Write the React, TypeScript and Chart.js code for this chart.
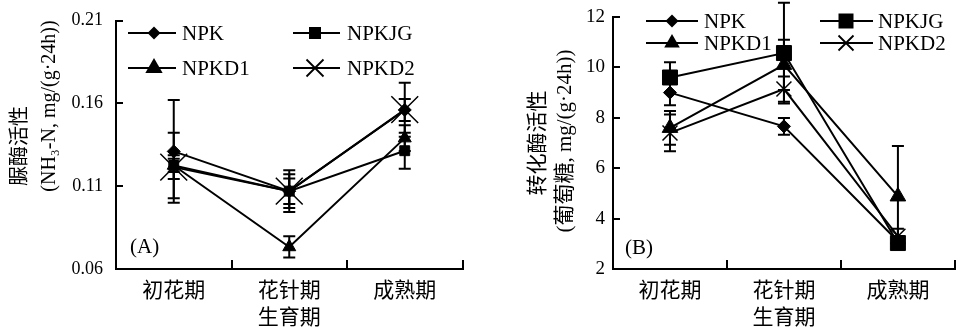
import React, { useEffect, useRef } from 'react';
import { Chart, registerables } from 'chart.js';

Chart.register(...registerables);

// ---------- data ----------
const categories = ['初花期', '花针期', '成熟期'];
const seriesNames = ['NPK', 'NPKJG', 'NPKD1', 'NPKD2'];
const xAxisTitle = '生育期';

// Panel A: urease activity
const ureaseNPK = [0.131, 0.107, 0.156];
const ureaseNPKJG = [0.1225, 0.107, 0.1314];
const ureaseNPKD1 = [0.1225, 0.0733, 0.139];
const ureaseNPKD2 = [0.1215, 0.107, 0.1562];
const ureaseErrNPK = [0.031, 0.0126, 0.0066];
const ureaseErrNPKJG = [0.0198, 0.0102, 0.0109];
const ureaseErrNPKD1 = [0.004, 0.0064, 0.0077];
const ureaseErrNPKD2 = [0.0071, 0.0077, 0.0163];
const ureaseTicks = [0.06, 0.11, 0.16, 0.21];
const ureaseTitle = ['脲酶活性', '(NH₃-N, mg/(g·24h))'];

// Panel B: invertase activity
const invertaseNPK = [9.0, 7.66, 3.1];
const invertaseNPKJG = [9.6, 10.57, 3.03];
const invertaseNPKD1 = [7.6, 10.1, 4.88];
const invertaseNPKD2 = [7.4, 9.14, 3.3];
const invertaseErrNPK = [0.5, 0.33, 0.2];
const invertaseErrNPKJG = [0.6, 2.0, 0.2];
const invertaseErrNPKD1 = [0.67, 1.0, 2.0];
const invertaseErrNPKD2 = [0.73, 0.5, 0.3];
const invertaseTicks = [2, 4, 6, 8, 10, 12];
const invertaseTitle = ['转化酶活性', '(葡萄糖, mg/(g·24h))'];

// ---------- styling ----------
const FONT = "'Liberation Serif', 'Noto Sans CJK SC', serif";
const pointStyles = ['rectRot', 'rect', 'triangle', 'crossRot'];

type Panel = {
  values: number[][];
  errors: number[][];
  ticks: number[];
  fmt: (v: number) => string;
  min: number;
  max: number;
  title: string[];
  tag: string;
  canvasLeft: number;
  canvasWidth: number;
  yAxisWidth: number;
  tickFont: number;
  tickPad: number;
  pointRadius: number[];
  crossWidth: number;
  titlePos: { x: number; y: number; size: number }[];
  tagPos: { x: number; y: number };
  legendRows: number[];
  legendCols: { x1: number; x2: number; mx: number; tx: number }[];
  legendSizes: number[];
};

const panels: Panel[] = [
  {
    values: [ureaseNPK, ureaseNPKJG, ureaseNPKD1, ureaseNPKD2],
    errors: [ureaseErrNPK, ureaseErrNPKJG, ureaseErrNPKD1, ureaseErrNPKD2],
    ticks: ureaseTicks,
    fmt: (v) => v.toFixed(2),
    min: 0.06,
    max: 0.21,
    title: ureaseTitle,
    tag: '(A)',
    canvasLeft: 0,
    canvasWidth: 483,
    yAxisWidth: 116,
    tickFont: 18,
    tickPad: 20,
    pointRadius: [6.5, 7, 7.5, 19],
    crossWidth: 1.5,
    titlePos: [
      { x: 21, y: 146, size: 20 },
      { x: 50, y: 106, size: 20 },
    ],
    tagPos: { x: 130, y: 247 },
    legendRows: [33, 68],
    legendCols: [
      { x1: 128, x2: 176, mx: 154, tx: 182 },
      { x1: 293, x2: 340, mx: 315, tx: 347 },
    ],
    legendSizes: [6.5, 6, 10, 8.5],
  },
  {
    values: [invertaseNPK, invertaseNPKJG, invertaseNPKD1, invertaseNPKD2],
    errors: [invertaseErrNPK, invertaseErrNPKJG, invertaseErrNPKD1, invertaseErrNPKD2],
    ticks: invertaseTicks,
    fmt: (v) => String(v),
    min: 2,
    max: 12,
    title: invertaseTitle,
    tag: '(B)',
    canvasLeft: 483,
    canvasWidth: 484,
    yAxisWidth: 130,
    tickFont: 19,
    tickPad: 15,
    pointRadius: [6.5, 10.6, 9, 10.6],
    crossWidth: 1.5,
    titlePos: [
      { x: 55, y: 143, size: 21 },
      { x: 82, y: 141, size: 21 },
    ],
    tagPos: { x: 142, y: 248 },
    legendRows: [21, 43],
    legendCols: [
      { x1: 163, x2: 215, mx: 189, tx: 221 },
      { x1: 337, x2: 390, mx: 363, tx: 395 },
    ],
    legendSizes: [6.5, 7.5, 9, 7.5],
  },
];

function drawMarker(ctx: CanvasRenderingContext2D, style: string, x: number, y: number, s: number) {
  ctx.beginPath();
  if (style === 'rectRot') {
    ctx.moveTo(x, y - s);
    ctx.lineTo(x + s, y);
    ctx.lineTo(x, y + s);
    ctx.lineTo(x - s, y);
    ctx.closePath();
    ctx.fill();
  } else if (style === 'rect') {
    ctx.rect(x - s, y - s, 2 * s, 2 * s);
    ctx.fill();
  } else if (style === 'triangle') {
    ctx.moveTo(x, y - s);
    ctx.lineTo(x + s * 0.866, y + s * 0.5);
    ctx.lineTo(x - s * 0.866, y + s * 0.5);
    ctx.closePath();
    ctx.fill();
  } else {
    ctx.lineWidth = 1.8;
    ctx.moveTo(x - s, y - s);
    ctx.lineTo(x + s, y + s);
    ctx.moveTo(x + s, y - s);
    ctx.lineTo(x - s, y + s);
    ctx.stroke();
  }
}

function buildConfig(p: Panel): any {
  const errorBars = {
    id: 'errbars',
    afterDatasetsDraw(chart: any) {
      const ctx = chart.ctx as CanvasRenderingContext2D;
      const xs = chart.scales.x;
      const ys = chart.scales.y;
      ctx.save();
      ctx.strokeStyle = '#000';
      ctx.lineWidth = 2;
      p.values.forEach((vals, i) => {
        vals.forEach((v, j) => {
          const e = p.errors[i][j];
          const x = xs.getPixelForValue(j);
          const yt = ys.getPixelForValue(v + e);
          const yb = ys.getPixelForValue(v - e);
          ctx.beginPath();
          ctx.moveTo(x, yt);
          ctx.lineTo(x, yb);
          ctx.moveTo(x - 6, yt);
          ctx.lineTo(x + 6, yt);
          ctx.moveTo(x - 6, yb);
          ctx.lineTo(x + 6, yb);
          ctx.stroke();
        });
      });
      ctx.restore();
    },
  };

  const decorations = {
    id: 'decor',
    afterDraw(chart: any) {
      const ctx = chart.ctx as CanvasRenderingContext2D;
      ctx.save();
      ctx.fillStyle = '#000';
      ctx.strokeStyle = '#000';
      // y-axis title lines
      p.title.forEach((t, k) => {
        const pos = p.titlePos[k];
        ctx.save();
        ctx.translate(pos.x, pos.y);
        ctx.rotate(-Math.PI / 2);
        ctx.font = `${pos.size}px ${FONT}`;
        ctx.textAlign = 'center';
        ctx.textBaseline = 'middle';
        ctx.fillText(t, 0, 0);
        ctx.restore();
      });
      // panel tag
      ctx.font = `21px ${FONT}`;
      ctx.textAlign = 'left';
      ctx.textBaseline = 'middle';
      ctx.fillText(p.tag, p.tagPos.x, p.tagPos.y);
      // legend
      seriesNames.forEach((name, i) => {
        const row = p.legendRows[Math.floor(i / 2)];
        const col = p.legendCols[i % 2];
        ctx.lineWidth = 2;
        ctx.beginPath();
        ctx.moveTo(col.x1, row);
        ctx.lineTo(col.x2, row);
        ctx.stroke();
        drawMarker(ctx, pointStyles[i], col.mx, row, p.legendSizes[i]);
        ctx.font = `21px ${FONT}`;
        ctx.textAlign = 'left';
        ctx.textBaseline = 'middle';
        ctx.fillText(name, col.tx, row + 1);
      });
      ctx.restore();
    },
  };

  return {
    type: 'line',
    data: {
      labels: categories,
      datasets: p.values.map((vals, i) => ({
        label: seriesNames[i],
        data: vals,
        borderColor: '#000',
        backgroundColor: '#000',
        borderWidth: 2,
        pointStyle: pointStyles[i],
        pointRadius: p.pointRadius[i],
        pointBorderWidth: i === 3 ? p.crossWidth : 1,
        pointBackgroundColor: '#000',
        pointBorderColor: '#000',
        tension: 0,
        fill: false,
        clip: false,
      })),
    },
    options: {
      responsive: false,
      animation: false,
      devicePixelRatio: 1,
      layout: { padding: { left: 0, right: 0, top: 17, bottom: 0 } },
      plugins: {
        legend: { display: false },
        tooltip: { enabled: false },
      },
      scales: {
        x: {
          type: 'category',
          offset: true,
          grid: {
            offset: true,
            drawOnChartArea: false,
            drawTicks: true,
            tickLength: -9,
            color: '#000',
            lineWidth: 2,
          },
          border: { display: true, color: '#000', width: 2 },
          ticks: {
            color: '#000',
            font: { family: FONT, size: 21 },
            padding: 19,
            maxRotation: 0,
            autoSkip: false,
          },
          title: {
            display: true,
            text: xAxisTitle,
            color: '#000',
            font: { family: FONT, size: 21 },
            padding: { top: 0, bottom: 0 },
          },
          afterFit: (s: any) => {
            s.height = 62;
            s.paddingLeft = 0;
            s.paddingRight = 0;
          },
        },
        y: {
          type: 'linear',
          min: p.min,
          max: p.max,
          grid: {
            drawOnChartArea: false,
            drawTicks: true,
            tickLength: -7,
            color: '#000',
            lineWidth: 2,
          },
          border: { display: true, color: '#000', width: 2 },
          ticks: {
            color: '#000',
            font: { family: FONT, size: p.tickFont },
            padding: p.tickPad,
            callback: (v: any) => p.fmt(Number(v)),
          },
          afterBuildTicks: (s: any) => {
            s.ticks = p.ticks.map((v) => ({ value: v }));
          },
          afterFit: (s: any) => {
            s.width = p.yAxisWidth;
            s.paddingTop = 0;
            s.paddingBottom = 0;
          },
        },
      },
    },
    plugins: [errorBars, decorations],
  };
}

function PanelChart({ p }: { p: Panel }) {
  const ref = useRef<HTMLCanvasElement | null>(null);
  useEffect(() => {
    if (!ref.current) return;
    const chart = new Chart(ref.current, buildConfig(p));
    return () => chart.destroy();
  }, [p]);
  return (
    <canvas
      ref={ref}
      width={p.canvasWidth}
      height={331}
      style={{
        position: 'absolute',
        left: p.canvasLeft,
        top: 0,
        width: p.canvasWidth,
        height: 331,
      }}
    />
  );
}

export default function App() {
  return (
    <div
      style={{
        position: 'absolute',
        left: 0,
        top: 0,
        width: 965,
        height: 331,
        overflow: 'hidden',
        background: '#fff',
      }}
    >
      {panels.map((p, i) => (
        <PanelChart key={i} p={p} />
      ))}
    </div>
  );
}
